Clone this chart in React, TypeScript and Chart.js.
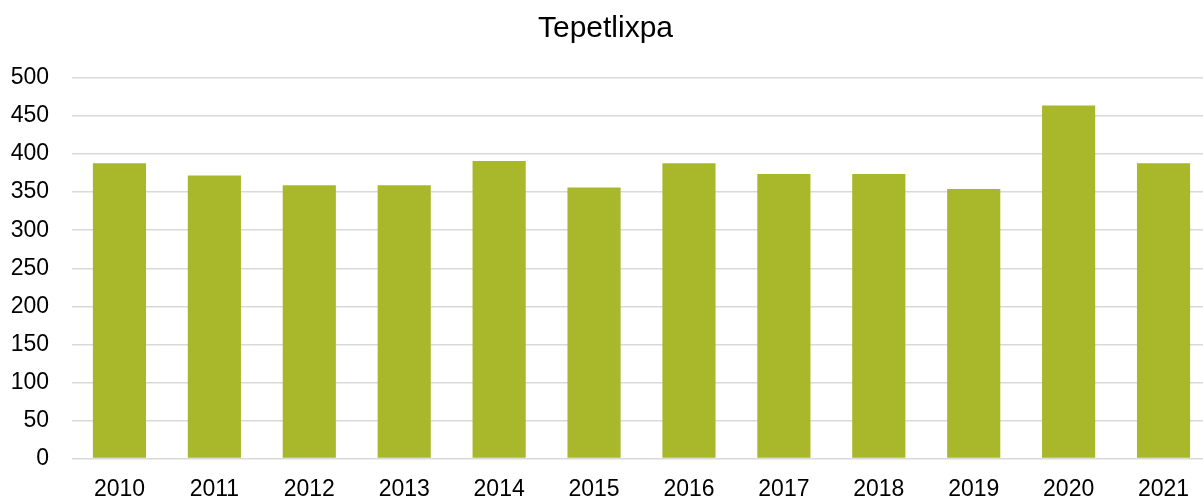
import React, { useEffect, useRef } from "react";
import { Chart, registerables } from "chart.js";

Chart.register(...registerables);

const TITLE = "Tepetlixpa";
const YEARS = ["2010", "2011", "2012", "2013", "2014", "2015", "2016", "2017", "2018", "2019", "2020", "2021"];
const VALUES = [388, 372, 359, 359, 391, 356, 388, 374, 374, 354, 464, 388];
const Y_MIN = 0;
const Y_MAX = 500;
const Y_STEP = 50;

const FONT = "'Liberation Sans', Arial, sans-serif";

export default function App() {
  const ref = useRef<HTMLCanvasElement | null>(null);

  useEffect(() => {
    if (!ref.current) return;
    const chart = new Chart(ref.current, {
      type: "bar",
      data: {
        labels: YEARS,
        datasets: [
          {
            label: TITLE,
            data: VALUES,
            backgroundColor: "#A8B82A",
            borderWidth: 0,
            categoryPercentage: 1,
            barPercentage: 0.56,
          },
        ],
      },
      options: {
        responsive: false,
        animation: false,
        layout: { padding: { left: 0, right: 20, top: 0, bottom: 0 } },
        plugins: {
          legend: { display: false },
          tooltip: { enabled: false },
          title: {
            display: true,
            text: TITLE,
            color: "#000000",
            font: { family: FONT, size: 30, weight: "normal" },
            padding: { top: 11, bottom: 31 },
          },
        },
        scales: {
          x: {
            grid: { display: false, drawTicks: false },
            border: { display: false },
            ticks: {
              color: "#000000",
              font: { family: FONT, size: 23 },
              padding: 17,
              maxRotation: 0,
              autoSkip: false,
            },
            afterFit: (scale: any) => {
              scale.height = 41.5;
            },
          },
          y: {
            min: Y_MIN,
            max: Y_MAX,
            grid: { color: "#D9D9D9", lineWidth: 1.5, drawTicks: false },
            border: { display: false },
            ticks: {
              stepSize: Y_STEP,
              color: "#000000",
              font: { family: FONT, size: 23 },
              padding: 23,
            },
            afterFit: (scale: any) => {
              scale.width = 72;
            },
          },
        },
      },
    });
    return () => chart.destroy();
  }, []);

  return (
    <div style={{ position: "fixed", left: 0, top: 0, width: 1203, height: 500, overflow: "hidden", background: "#fff" }}>
      <canvas ref={ref} width={1231} height={500} style={{ display: "block" }} />
    </div>
  );
}
